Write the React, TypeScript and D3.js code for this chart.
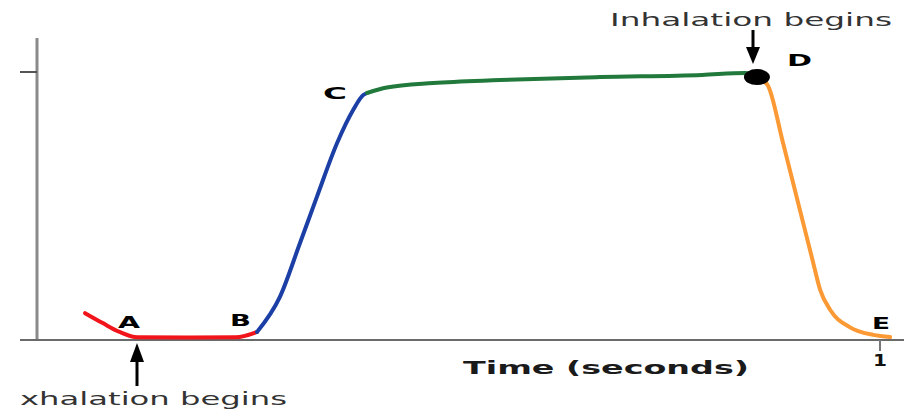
import React, { useEffect } from "react";
import * as d3 from "d3";

// Time (s) and volume (relative) for each phase of the curve
const phaseA_t = [0.057, 0.078, 0.098, 0.119, 0.18, 0.236, 0.261];
const phaseA_v = [0.1, 0.063, 0.03, 0.01, 0.009, 0.01, 0.03];
const phaseB_t = [0.261, 0.288, 0.312, 0.332, 0.356, 0.375, 0.387, 0.3915];
const phaseB_v = [0.03, 0.16, 0.362, 0.534, 0.735, 0.858, 0.914, 0.9216];
const phaseC_t = [0.3915, 0.415, 0.47, 0.549, 0.668, 0.789, 0.84, 0.854];
const phaseC_v = [0.9216, 0.942, 0.959, 0.97, 0.981, 0.989, 0.996, 0.981];
const phaseD_t = [0.854, 0.86, 0.867, 0.885, 0.905, 0.92, 0.929, 0.941, 0.964, 0.992, 1.012];
const phaseD_v = [0.981, 0.97, 0.95, 0.735, 0.485, 0.298, 0.187, 0.112, 0.048, 0.019, 0.011];
const pointD = { t: 0.854, v: 0.981 };
const xTicks = [1];
const xTickLabels = ["1"];
const yTicks = [1];
const xTitle = "Time (seconds)";
const exhaleText = "xhalation begins";
const inhaleText = "Inhalation begins";
const pointLabels = ["A", "B", "C", "D", "E"];

const W = 904;
const H = 409;

export default function App() {
  useEffect(() => {
    document.body.style.margin = "0";
  }, []);

  const x = d3.scaleLinear().domain([0, 1]).range([37, 880]);
  const y = d3.scaleLinear().domain([0, 1]).range([340, 72]);

  const line = d3
    .line<[number, number]>()
    .x((d) => x(d[0]))
    .y((d) => y(d[1]))
    .curve(d3.curveMonotoneX);

  const zip = (ts: number[], vs: number[]) => ts.map((t, i) => [t, vs[i]] as [number, number]);

  const series = [
    { pts: zip(phaseA_t, phaseA_v), color: "#f2141b" },
    { pts: zip(phaseB_t, phaseB_v), color: "#1c3fa6" },
    { pts: zip(phaseC_t, phaseC_v), color: "#217a3c" },
    { pts: zip(phaseD_t, phaseD_v), color: "#fb9a35" },
  ];

  // label layout: [x, baseline y, width]
  const labelLayout: [number, number, number][] = [
    [118, 328, 22],
    [230, 326, 21],
    [323, 99, 24],
    [787, 66, 25],
    [872, 329, 18],
  ];

  const font = "'DejaVu Sans', Verdana, sans-serif";

  return (
    <svg width={W} height={H} style={{ display: "block" }}>
      <rect width={W} height={H} fill="#fff" />
      {/* y axis */}
      <line x1={37} x2={37} y1={38} y2={y(0)} stroke="#8a8a8a" strokeWidth={3} />
      {yTicks.map((t) => (
        <line key={t} x1={20} x2={37} y1={y(t)} y2={y(t)} stroke="#555" strokeWidth={2} />
      ))}
      {/* x axis */}
      <line x1={20} x2={904} y1={y(0)} y2={y(0)} stroke="#6a6a6a" strokeWidth={2} />
      {xTicks.map((t, i) => (
        <g key={t}>
          <line x1={x(t)} x2={x(t)} y1={y(0)} y2={y(0) + 11} stroke="#777" strokeWidth={2} />
          <text
            x={x(t) - 7}
            y={366}
            fontFamily={font}
            fontWeight="bold"
            fontSize={16}
            fill="#111"
            textLength={14}
            lengthAdjust="spacingAndGlyphs"
          >
            {xTickLabels[i]}
          </text>
        </g>
      ))}
      <text
        x={463}
        y={374}
        fontFamily={font}
        fontWeight="bold"
        fontSize={18}
        fill="#1a1a1a"
        textLength={286}
        lengthAdjust="spacingAndGlyphs"
      >
        {xTitle}
      </text>

      {/* curves */}
      {series.map((s, i) => (
        <path
          key={i}
          d={line(s.pts) || ""}
          fill="none"
          stroke={s.color}
          strokeWidth={4}
          strokeLinecap="round"
          strokeLinejoin="round"
        />
      ))}
      <ellipse cx={x(pointD.t)} cy={y(pointD.v)} rx={13} ry={8} fill="#000" />

      {/* labels */}
      {pointLabels.map((l, i) => (
        <text
          key={l}
          x={labelLayout[i][0]}
          y={labelLayout[i][1]}
          fontFamily={font}
          fontWeight="bold"
          fontSize={15}
          fill="#000"
          textLength={labelLayout[i][2]}
          lengthAdjust="spacingAndGlyphs"
        >
          {l}
        </text>
      ))}

      {/* exhalation annotation */}
      <line x1={137} x2={137} y1={386} y2={358} stroke="#000" strokeWidth={3} />
      <polygon points="137,343 130,362 144,362" fill="#000" />
      <text
        x={20}
        y={405}
        fontFamily={font}
        fontSize={18}
        fill="#333"
        textLength={267}
        lengthAdjust="spacingAndGlyphs"
      >
        {exhaleText}
      </text>

      {/* inhalation annotation */}
      <line x1={753} x2={753} y1={30} y2={52} stroke="#000" strokeWidth={3} />
      <polygon points="753,64 746,47 760,47" fill="#000" />
      <text
        x={610}
        y={26}
        fontFamily={font}
        fontSize={18}
        fill="#333"
        textLength={282}
        lengthAdjust="spacingAndGlyphs"
      >
        {inhaleText}
      </text>
    </svg>
  );
}
